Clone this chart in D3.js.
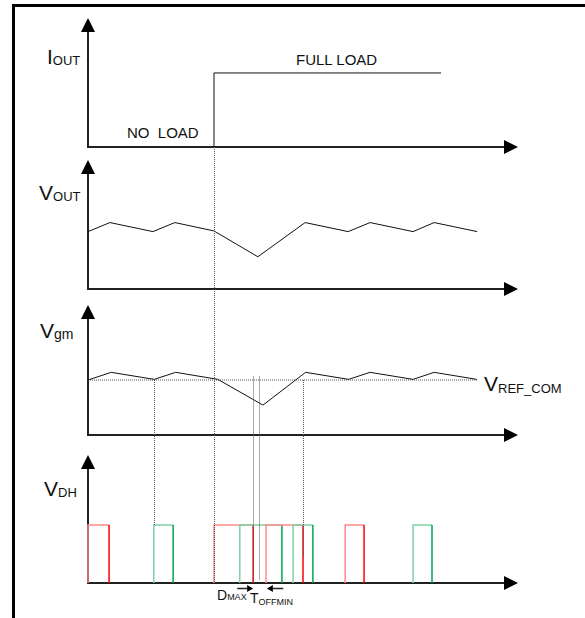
<!DOCTYPE html>
<html>
<head>
<meta charset="utf-8">
<script src="https://cdn.jsdelivr.net/npm/d3@7"></script>
<style>
  body { margin: 0; background: #fff; }
  svg { display: block; font-family: Arial, "Liberation Sans", sans-serif; }
  .frame { stroke: #000; stroke-width: 3; fill: none; }
  .axis-line { stroke: #222; stroke-width: 2; }
  .arrow-head { fill: #000; }
  .trace { fill: none; stroke: #111; stroke-width: 1; }
  .guide { stroke: #555; stroke-width: 1; stroke-dasharray: 1,1; fill: none; }
  .label { fill: #111; }
</style>
</head>
<body>
<div id="timing-chart"></div>
<script>
// time is in % of the sweep, levels are fractions of the panel height

// I_OUT load step
const loadTime = [29.3, 29.3, 82.1]
const loadLevel = [0, 0.574, 0.574]

// V_OUT ripple and load-step dip
const voutTime = [0, 5.1, 15.1, 20.2, 29.3, 39.5, 50.5, 60.5, 65.6, 75.6, 80.5, 90.5]
const voutLevel = [0.445, 0.515, 0.445, 0.515, 0.45, 0.25, 0.515, 0.445, 0.515, 0.445, 0.515, 0.445]

// V_gm (error amp output) against the reference
const vgmTime = [0, 5.4, 15.4, 20.4, 30.2, 40.7, 50.6, 60.6, 65.6, 75.6, 80.5, 90.4]
const vgmLevel = [0.423, 0.482, 0.428, 0.482, 0.428, 0.23, 0.482, 0.428, 0.482, 0.428, 0.482, 0.428]
const refLevel = 0.423
const refEnd = 90.5

// V_DH gate pulses, alternating phases
const pulseStart = [0, 15.3, 29.3, 35.3, 41.4, 47.7, 59.8, 75.6]
const pulseEnd = [4.9, 19.8, 38.4, 45.1, 50.0, 52.3, 64.2, 80.0]
const pulsePhase = ['A', 'B', 'A', 'B', 'A', 'B', 'A', 'B']
const pulseHigh = 0.453

// dotted timing guides
const guideTime = [15.3, 29.3, 38.4, 39.8, 50.0]
const guideFrom = [['vgm', 0.423], ['iout', 0], ['vgm', 0.45], ['vgm', 0.45], ['vgm', 0.423]]
const guideTo = [['vdh', 0.453], ['vdh', 0], ['vdh', 0], ['vdh', 0.02], ['vdh', 0.2]]

// D_MAX / T_OFFMIN markers
const dmaxSpan = [34.7, 38.4]
const toffSpan = [45.4, 41.6]

const width = 585
const height = 618

const panels = {
  iout: { base: 147, top: 18 },
  vout: { base: 289, top: 160 },
  vgm: { base: 435, top: 305 },
  vdh: { base: 583, top: 455 }
}

const phaseColor = { A: '#ff0000', B: '#00a651' }
const phaseLight = { A: '#ff8a8a', B: '#7fd2a6' }

const x = d3.scaleLinear().domain([0, 100]).range([88, 518])
const y = {}
Object.keys(panels).forEach(function (k) {
  y[k] = d3.scaleLinear().domain([0, 1]).range([panels[k].base, panels[k].top])
})

const svg = d3.select('#timing-chart')
  .append('svg')
  .attr('width', width)
  .attr('height', height)

svg.append('path')
  .attr('class', 'frame')
  .attr('d', 'M13.5,' + height + 'V5.5H' + width)

const g = svg.append('g')

/**
 * Draws the two axes of a panel with their arrow heads.
 *
 * @param {string} key The panel name
 */
function drawAxes (key) {
  const x0 = x(0)
  const x1 = x(100)
  const yb = y[key](0)
  const yt = y[key](1)
  g.append('line').attr('class', 'axis-line')
    .attr('x1', x0).attr('y1', yb).attr('x2', x0).attr('y2', yt + 6)
  g.append('line').attr('class', 'axis-line')
    .attr('x1', x0 - 1).attr('y1', yb).attr('x2', x1 - 6).attr('y2', yb)
  g.append('path').attr('class', 'arrow-head')
    .attr('d', 'M' + x0 + ',' + yt + 'L' + (x0 + 7) + ',' + (yt + 14) + 'L' + (x0 - 7) + ',' + (yt + 14) + 'Z')
  g.append('path').attr('class', 'arrow-head')
    .attr('d', 'M' + x1 + ',' + yb + 'L' + (x1 - 14) + ',' + (yb - 7) + 'L' + (x1 - 14) + ',' + (yb + 7) + 'Z')
}

Object.keys(panels).forEach(drawAxes)

/**
 * Draws a polyline in a panel from parallel time / level arrays.
 */
function drawTrace (key, times, levels) {
  const line = d3.line()
    .x(function (d) { return x(d[0]) })
    .y(function (d) { return y[key](d[1]) })
  g.append('path')
    .attr('class', 'trace')
    .attr('d', line(d3.zip(times, levels)))
}

drawTrace('iout', loadTime, loadLevel)
drawTrace('vout', voutTime, voutLevel)

// reference line under V_gm
g.append('line')
  .attr('class', 'guide')
  .attr('x1', x(0)).attr('x2', x(refEnd))
  .attr('y1', y.vgm(refLevel)).attr('y2', y.vgm(refLevel))

drawTrace('vgm', vgmTime, vgmLevel)

// gate pulses: rising edge and top light, falling edge solid
pulseStart.forEach(function (s, i) {
  const e = pulseEnd[i]
  const p = pulsePhase[i]
  const yb = y.vdh(0)
  const yh = y.vdh(pulseHigh)
  g.append('path')
    .attr('fill', 'none')
    .attr('stroke', phaseLight[p])
    .attr('stroke-width', 1.5)
    .attr('d', 'M' + x(s) + ',' + yb + 'V' + yh + 'H' + x(e))
  g.append('line')
    .attr('stroke', phaseColor[p])
    .attr('stroke-width', 1.5)
    .attr('x1', x(e)).attr('x2', x(e))
    .attr('y1', yh).attr('y2', yb)
})

guideTime.forEach(function (t, i) {
  const f = guideFrom[i]
  const to = guideTo[i]
  g.append('line')
    .attr('class', 'guide')
    .attr('x1', Math.round(x(t)) + 0.5).attr('x2', Math.round(x(t)) + 0.5)
    .attr('y1', y[f[0]](f[1])).attr('y2', y[to[0]](to[1]))
})

/**
 * Small horizontal arrow under the V_DH axis.
 */
function drawMarker (span) {
  const ya = y.vdh(0) + 5.5
  const a = x(span[0])
  const b = x(span[1])
  const dir = b > a ? 1 : -1
  g.append('line')
    .attr('stroke', '#222').attr('stroke-width', 1.5)
    .attr('x1', a).attr('x2', b - dir * 5).attr('y1', ya).attr('y2', ya)
  g.append('path')
    .attr('class', 'arrow-head')
    .attr('d', 'M' + b + ',' + ya + 'L' + (b - dir * 6) + ',' + (ya - 3.5) + 'L' + (b - dir * 6) + ',' + (ya + 3.5) + 'Z')
}

drawMarker(dmaxSpan)
drawMarker(toffSpan)

/**
 * Appends a label with a subscript part.
 */
function label (px, py, main, sub, size, subSize, dy) {
  const t = g.append('text')
    .attr('class', 'label')
    .attr('x', px)
    .attr('y', py)
    .attr('font-size', size)
    .text(main)
  if (sub) {
    t.append('tspan')
      .attr('font-size', subSize)
      .attr('dy', dy)
      .text(sub)
  }
}

label(47, 64, 'I', 'OUT', 21, 13, 1)
label(39, 200, 'V', 'OUT', 21, 13, 1)
label(40, 338, 'V', 'gm', 21, 14, 1)
label(44, 496, 'V', 'DH', 21, 13, 1)
label(484, 391, 'V', 'REF_COM', 21, 13, 2)
label(217, 600, 'D', 'MAX', 14, 9, 0)
label(250, 603, 'T', 'OFFMIN', 14, 9, 2)

g.append('text').attr('class', 'label')
  .attr('x', 296).attr('y', 65).attr('font-size', 15)
  .text('FULL LOAD')
g.append('text').attr('class', 'label')
  .attr('x', 127).attr('y', 138).attr('font-size', 15)
  .attr('xml:space', 'preserve')
  .style('white-space', 'pre')
  .text('NO  LOAD')
</script>
</body>
</html>
